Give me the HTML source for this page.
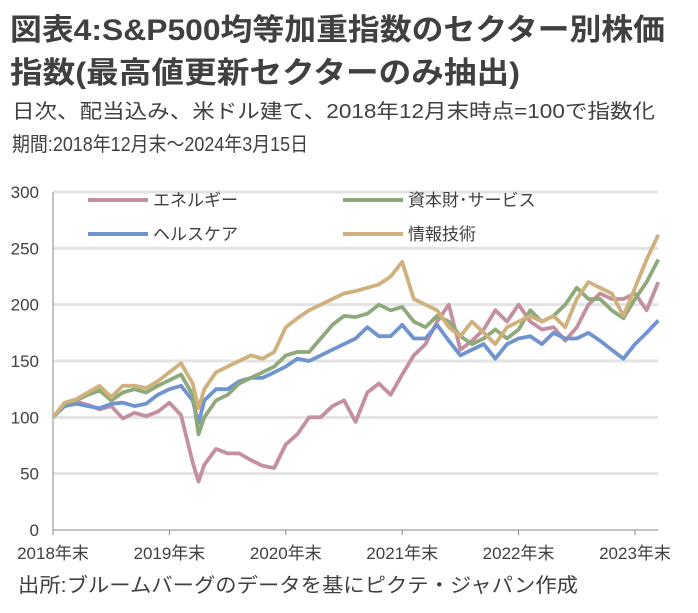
<!DOCTYPE html>
<html><head><meta charset="utf-8"><style>
body{margin:0;background:#fff;}
svg{display:block;font-family:"Liberation Sans","Noto Sans CJK JP",sans-serif;}
</style></head><body>
<svg id="c" width="698" height="613" viewBox="0 0 698 613">
<g fill="#404040" font-weight="600">
<text x="10" y="40" font-size="30" textLength="655" lengthAdjust="spacingAndGlyphs">図表4:S&amp;P500均等加重指数のセクター別株価</text>
<text x="10" y="83" font-size="30" textLength="510" lengthAdjust="spacingAndGlyphs">指数(最高値更新セクターのみ抽出)</text>
</g>
<text x="12" y="118" font-size="20" fill="#404040" textLength="643" lengthAdjust="spacingAndGlyphs">日次、配当込み、米ドル建て、2018年12月末時点=100で指数化</text>
<text x="12" y="151" font-size="20" fill="#404040" textLength="296" lengthAdjust="spacingAndGlyphs">期間:2018年12月末～2024年3月15日</text>
<text x="18" y="592" font-size="20" fill="#404040" textLength="560" lengthAdjust="spacingAndGlyphs">出所:ブルームバーグのデータを基にピクテ・ジャパン作成</text>
<g id="grid"></g>
<g id="axes"></g>
<g id="series"></g>
<g font-size="17" fill="#404040">
<g><line x1="88" y1="200" x2="148" y2="200" stroke="#c4909f" stroke-width="4"/><text x="153" y="206">エネルギー</text></g>
<g><line x1="343" y1="200" x2="403" y2="200" stroke="#8ea97a" stroke-width="4"/><text x="408" y="206">資本財･サービス</text></g>
<g><line x1="88" y1="234" x2="148" y2="234" stroke="#6f94cf" stroke-width="4"/><text x="153" y="240">ヘルスケア</text></g>
<g><line x1="343" y1="234" x2="403" y2="234" stroke="#d0b07c" stroke-width="4"/><text x="408" y="240">情報技術</text></g>
</g>
</svg>
<script>
const xTickLabels=["2018年末","2019年末","2020年末","2021年末","2022年末","2023年末"];
const yTicks=[0,50,100,150,200,250,300];
const times=[0,.1,.2,.3,.4,.5,.6,.7,.8,.9,1.0,1.1,1.2,1.25,1.3,1.4,1.5,1.6,1.7,1.8,1.9,2.0,2.1,2.2,2.3,2.4,2.5,2.6,2.7,2.8,2.9,3.0,3.1,3.2,3.3,3.4,3.5,3.6,3.7,3.8,3.9,4.0,4.1,4.2,4.3,4.4,4.5,4.6,4.7,4.8,4.9,5.0,5.1,5.2];
const energy=[100,112,114,111,107,110,99,104,101,105,113,102,60,43,58,72,68,68,62,57,55,76,85,100,100,110,115,96,122,130,120,138,155,165,185,200,160,168,178,195,185,200,185,178,180,168,180,200,210,205,205,210,195,220];
const industrials=[100,112,115,120,124,115,122,125,122,128,133,138,120,85,100,115,120,130,135,140,145,155,158,158,170,182,190,189,192,200,195,198,185,180,190,185,172,165,170,178,170,178,195,185,190,200,215,205,205,195,188,205,220,240];
const healthcare=[100,110,112,110,108,112,113,110,112,120,125,128,115,95,115,125,125,132,135,135,140,145,152,150,155,160,165,170,180,172,172,182,170,170,182,168,155,160,165,152,165,170,172,165,175,170,170,175,168,160,152,165,175,186];
const it=[100,113,116,122,128,118,128,128,126,132,140,148,130,108,125,140,145,150,155,152,158,180,188,195,200,205,210,212,215,218,225,238,205,200,195,180,172,185,175,165,180,185,190,185,190,180,205,220,215,210,190,215,240,262];
const NS="http://www.w3.org/2000/svg";
const x0=53,x1=635,y0=530,y1=192,tEnd=5.2;
const xs=t=>x0+(x1-x0)*t/5;
const ys=v=>y0-(y0-y1)*v/300;
function mk(tag,attrs,parent){const e=document.createElementNS(NS,tag);for(const k in attrs)e.setAttribute(k,attrs[k]);parent.appendChild(e);return e;}
const grid=document.getElementById('grid'),axes=document.getElementById('axes'),ser=document.getElementById('series');
yTicks.forEach(v=>{
  if(v>0){const l=mk('line',{x1:x0,x2:xs(tEnd),y1:ys(v),y2:ys(v),stroke:'#e3e3e3','stroke-width':3},grid);
  
  }
  const t=mk('text',{x:x0-14,y:ys(v)+6,'text-anchor':'end','font-size':17,fill:'#404040'},axes);
  t.textContent=v;
  
  
});
mk('line',{x1:x0,x2:x0,y1:y1,y2:y0,stroke:'#888','stroke-width':1},axes);
mk('line',{x1:x0,x2:xs(tEnd),y1:y0,y2:y0,stroke:'#888','stroke-width':1},axes);
xTickLabels.forEach((lab,i)=>{
  mk('line',{x1:xs(i),x2:xs(i),y1:y0,y2:y0+5,stroke:'#888'},axes);
  const t=mk('text',{x:xs(i),y:y0+29,'text-anchor':'middle','font-size':17,fill:'#404040'},axes);
  t.textContent=lab;
  
  
});
[[energy,'#c4909f','line-energy'],[healthcare,'#6f94cf','line-healthcare'],[industrials,'#8ea97a','line-industrials'],[it,'#d0b07c','line-it']].forEach(([d,c,n])=>{
  const pts=d.map((v,i)=>xs(times[i]).toFixed(1)+','+ys(v).toFixed(1)).join(' ');
  const p=mk('polyline',{points:pts,fill:'none',stroke:c,'stroke-width':3.8,'stroke-linejoin':'round'},ser);
  
  
});
</script>
</body></html>
